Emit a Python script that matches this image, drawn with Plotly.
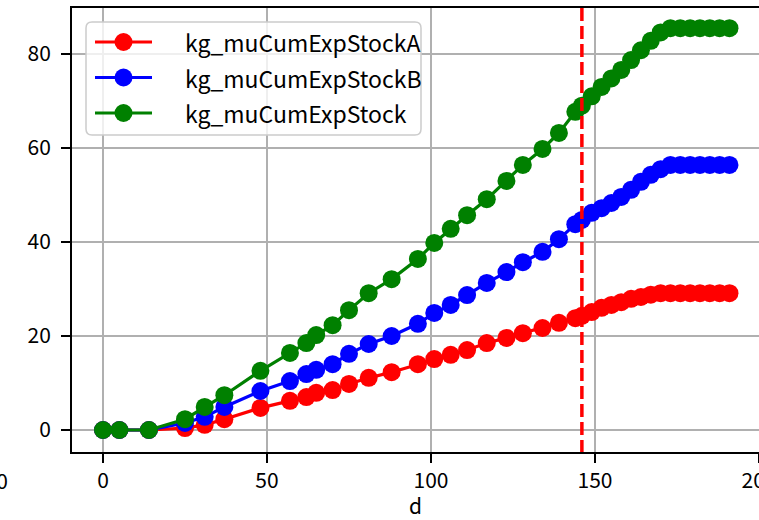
import plotly.graph_objects as go

# ---- data ----
d = [0, 5, 14, 25, 31, 37, 48, 57, 62, 65, 70, 75, 81, 88, 96, 101, 106, 111, 117, 123,
     128, 134, 139, 144, 146, 149, 152, 155, 158, 161, 164, 167, 170, 173, 176, 179, 182,
     185, 188, 191]
stock_a = [0, 0, 0, 0.4, 1.1, 2.3, 4.7, 6.2, 7.0, 7.9, 8.5, 9.8, 11.1, 12.3, 14.0, 15.1,
           16.0, 17.0, 18.5, 19.6, 20.6, 21.7, 22.8, 23.8, 24.3, 25.1, 26.0, 26.6, 27.2,
           27.9, 28.3, 28.8, 29.1, 29.1, 29.1, 29.1, 29.1, 29.1, 29.1, 29.1]
stock_b = [0, 0, 0, 1.5, 2.8, 4.9, 8.3, 10.4, 11.9, 12.8, 14.0, 16.2, 18.3, 20.0, 22.6,
           24.9, 26.6, 28.7, 31.3, 33.6, 35.7, 37.9, 40.6, 43.8, 44.7, 46.2, 47.2, 48.3,
           49.6, 51.1, 52.8, 54.3, 55.5, 56.4, 56.4, 56.4, 56.4, 56.4, 56.4, 56.4]
stock_total = [0, 0, 0, 2.3, 4.9, 7.4, 12.6, 16.4, 18.5, 20.2, 22.3, 25.5, 29.1, 32.1,
               36.4, 39.8, 42.8, 45.7, 49.1, 53.0, 56.4, 59.8, 63.2, 67.7, 69.0, 71.0,
               73.0, 74.8, 76.6, 78.7, 80.8, 82.8, 84.6, 85.5, 85.5, 85.5, 85.5, 85.5,
               85.5, 85.5]
series_names = ["kg_muCumExpStockA", "kg_muCumExpStockB", "kg_muCumExpStock"]
series_colors = ["#ff0000", "#0000ff", "#008000"]
vline_d = 146
x_ticks = [0, 50, 100, 150, 200]
y_ticks = [0, 20, 40, 60, 80]
x_title = "d"
neighbour_label = "200"

# ---- layout geometry ----
W, H = 759, 520
L, R, T, B = 72, 0, 8, 68
PW, PH = W - L - R, H - T - B
FONT = "Noto Sans CJK SC, sans-serif"
MS = 18


def pxx(x):
    return (x - L) / PW


def pxy(y):
    return (H - B - y) / PH


fig = go.Figure()
for name, ys, col in zip(series_names, [stock_a, stock_b, stock_total], series_colors):
    fig.add_trace(go.Scatter(x=d, y=ys, name=name, mode="lines+markers",
                             line=dict(color=col, width=3.2),
                             marker=dict(size=MS, color=col),
                             showlegend=False))

shapes = [dict(type="line", xref="x", yref="paper", x0=vline_d, x1=vline_d, y0=1, y1=0,
               line=dict(color="#ff0000", width=3.5, dash="13px,5px"), layer="above")]

# custom legend box (matplotlib style)
bx0, bx1, by0, by1, r = 86, 421, 22, 135, 6
rx, ry = r / PW, r / PH
X0, X1, Y0, Y1 = pxx(bx0), pxx(bx1), pxy(by1), pxy(by0)
path = (f"M{X0+rx},{Y0} L{X1-rx},{Y0} Q{X1},{Y0} {X1},{Y0+ry} L{X1},{Y1-ry} "
        f"Q{X1},{Y1} {X1-rx},{Y1} L{X0+rx},{Y1} Q{X0},{Y1} {X0},{Y1-ry} "
        f"L{X0},{Y0+ry} Q{X0},{Y0} {X0+rx},{Y0} Z")
shapes.append(dict(type="path", xref="paper", yref="paper", path=path,
                   fillcolor="rgba(255,255,255,0.8)",
                   line=dict(color="#cccccc", width=1.5), layer="above"))
annotations = []
for i, (name, col) in enumerate(zip(series_names, series_colors)):
    cy = 42 + 35.5 * i
    shapes.append(dict(type="line", xref="paper", yref="paper", x0=pxx(95), x1=pxx(152),
                       y0=pxy(cy), y1=pxy(cy), line=dict(color=col, width=3.2), layer="above"))
    shapes.append(dict(type="circle", xref="paper", yref="paper", xsizemode="pixel",
                       ysizemode="pixel", xanchor=pxx(123.5), yanchor=pxy(cy),
                       x0=-MS / 2, x1=MS / 2, y0=-MS / 2, y1=MS / 2, fillcolor=col,
                       line=dict(color=col, width=0), layer="above"))
    annotations.append(dict(xref="paper", yref="paper", x=pxx(183), y=pxy(cy),
                            xanchor="left", yanchor="middle", showarrow=False,
                            text=name, font=dict(family=FONT, size=23, color="black")))

# clipped tick label of the neighbouring panel at the far left
annotations.append(dict(xref="paper", yref="paper", x=pxx(10), y=pxy(480),
                        xanchor="right", yanchor="middle", showarrow=False,
                        text=neighbour_label, font=dict(family=FONT, size=21, color="black")))

fig.update_layout(
    width=W, height=H,
    margin=dict(l=L, r=R, t=T, b=B, pad=0),
    paper_bgcolor="white", plot_bgcolor="white",
    font=dict(family=FONT, size=21, color="black"),
    shapes=shapes, annotations=annotations, showlegend=False,
    xaxis=dict(range=[(L - 103) / 3.28, (W - 103) / 3.28], tickvals=x_ticks,
               showgrid=True, gridcolor="#b0b0b0", gridwidth=2, zeroline=False,
               showline=True, linecolor="black", linewidth=2, mirror=True,
               ticks="outside", ticklen=9, tickwidth=2, tickcolor="black",
               ticklabeloverflow="allow", automargin=False,
               tickfont=dict(family=FONT, size=21),
               title=dict(text=x_title, standoff=12, font=dict(family=FONT, size=21))),
    yaxis=dict(range=[(430 - 452) / 4.7, (430 - 8) / 4.7], tickvals=y_ticks,
               showgrid=True, gridcolor="#b0b0b0", gridwidth=2, zeroline=False,
               showline=True, linecolor="black", linewidth=2, mirror=False,
               ticks="outside", ticklen=9, tickwidth=2, tickcolor="black",
               automargin=False, ticklabelstandoff=6,
               tickfont=dict(family=FONT, size=21)),
)

fig.write_html("out.html", config={"displayModeBar": False},
               post_script="document.body.style.margin='0';")
